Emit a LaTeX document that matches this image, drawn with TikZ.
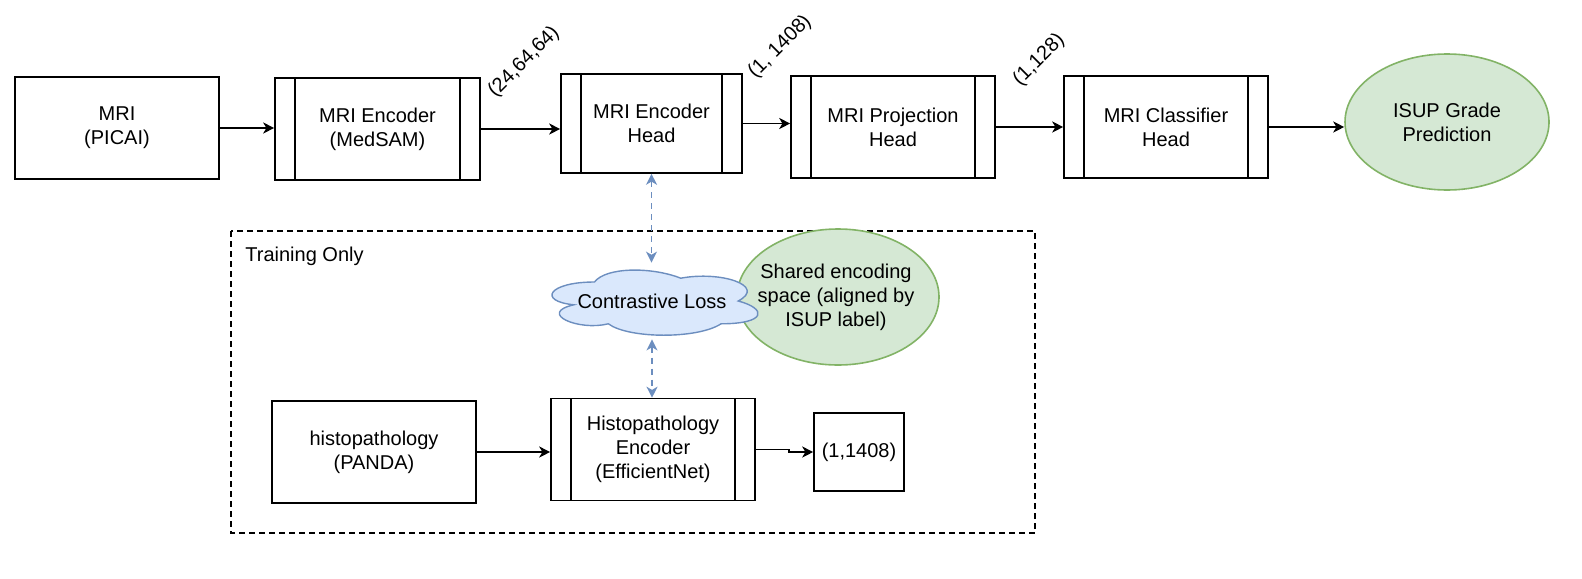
\documentclass[tikz,border=0pt]{standalone}
\usepackage{fontspec}
\setmainfont{Liberation Sans}
\usetikzlibrary{arrows.meta,shapes.geometric}
\definecolor{gfill}{HTML}{D5E8D4}
\definecolor{gline}{HTML}{82B366}
\definecolor{bfill}{HTML}{DAE8FC}
\definecolor{bline}{HTML}{6C8EBF}
\tikzset{
  base/.style={draw, line width=0.8pt, inner sep=0pt, align=center, font=\fontsize{10}{12}\selectfont},
  plainbox/.style={base, rectangle},
  procbox/.style={base, rectangle,
    path picture={\draw[line width=0.8pt]
      ([xshift=10pt]path picture bounding box.north west) -- ([xshift=10pt]path picture bounding box.south west)
      ([xshift=-10pt]path picture bounding box.north east) -- ([xshift=-10pt]path picture bounding box.south east);}},
  greenell/.style={base, ellipse, fill=gfill, draw=gline},
  txt/.style={inner sep=0pt, align=center, font=\fontsize{10}{12}\selectfont},
  arr/.style={line width=0.8pt, -{Stealth[length=5.5pt,width=5.5pt,inset=1.6pt]}},
  bluearr/.style={line width=0.7pt, bline, dash pattern=on 3pt off 2.5pt,
    {Stealth[length=5.5pt,width=5.5pt,inset=1.6pt]}-{Stealth[length=5.5pt,width=5.5pt,inset=1.6pt]}},
  dimlabel/.style={font=\fontsize{10}{12}\selectfont, rotate=45, inner sep=0pt}
}
\begin{document}
\begin{tikzpicture}[x=0.5pt,y=-0.5pt]
\path[use as bounding box] (0,0) rectangle (1582,578);

% training-only dashed region
\draw[line width=0.7pt, dash pattern=on 3pt off 2pt] (231,231) rectangle (1035,533);
\node[txt, anchor=west] (train) at (245,256) {Training Only};

% top row
\node[plainbox, minimum width=102pt, minimum height=51pt] (mri) at (117,128) {MRI\\(PICAI)};
\node[procbox, minimum width=102.5pt, minimum height=51pt] (enc) at (377.5,129) {MRI Encoder\\(MedSAM)};
\node[procbox, minimum width=90.5pt, minimum height=49.5pt] (head) at (651.5,123.5) {MRI Encoder\\Head};
\node[procbox, minimum width=102pt, minimum height=51pt] (proj) at (893,127) {MRI Projection\\Head};
\node[procbox, minimum width=102pt, minimum height=51pt] (cls) at (1166,127) {MRI Classifier\\Head};
\node[greenell, minimum width=102pt, minimum height=68pt] (isup) at (1447,122) {};
\node[txt] (isuptxt) at (isup.center) {ISUP Grade\\Prediction};

% dimension labels
\node[dimlabel] (d1) at (524,62) {(24,64,64)};
\node[dimlabel] (d2) at (780,47) {(1, 1408)};
\node[dimlabel] (d3) at (1039,60) {(1,128)};

% shared space ellipse
\node[greenell, minimum width=101pt, minimum height=68pt] (shared) at (838,297) {};
\node[txt] (sharedtxt) at (836,297) {Shared encoding\\space (aligned by\\ISUP label)};

% contrastive loss cloud (draw.io cloud outline)
\begin{scope}[shift={(537,263)}]
\draw[line width=0.7pt, draw=bline, fill=bfill]
  (57.5,19) .. controls (11.5,19) and (0,38) .. (36.8,41.8)
  .. controls (0,50.16) and (41.4,68.4) .. (71.3,60.8)
  .. controls (92,76) and (161,76) .. (184,60.8)
  .. controls (230,60.8) and (230,45.6) .. (201.25,38)
  .. controls (230,22.8) and (184,7.6) .. (143.75,15.2)
  .. controls (115,3.8) and (69,3.8) .. (57.5,19) -- cycle;
\end{scope}
\node[rectangle, inner sep=0pt, minimum width=115pt, minimum height=38pt, font=\fontsize{10}{12}\selectfont] (loss) at (652,301) {Contrastive Loss};

% bottom row
\node[plainbox, minimum width=102pt, minimum height=51pt] (histo) at (374,452) {histopathology\\(PANDA)};
\node[procbox, minimum width=102pt, minimum height=51pt] (henc) at (653,449.5) {Histopathology\\Encoder\\(EfficientNet)};
\node[plainbox, minimum width=45pt, minimum height=39pt] (small) at (859,452) {(1,1408)};

% connectors
\draw[arr] (mri.east) -- (mri.east -| enc.west);
\draw[arr] (enc.east) -- (enc.east -| head.west);
\draw[arr] (head.east) -- (head.east -| proj.west);
\draw[arr] (proj.east) -- (proj.east -| cls.west);
\draw[arr] (cls.east) -- (cls.east -| isup.west);
\draw[arr] (histo.east) -- (histo.east -| henc.west);
\draw[arr] (henc.east) -- ++(33,0) |- (small.west);
\draw[bluearr] (head.south) -- (head.south |- loss.north);
\draw[bluearr] (loss.south) -- (loss.south |- henc.north);
\end{tikzpicture}
\end{document}
